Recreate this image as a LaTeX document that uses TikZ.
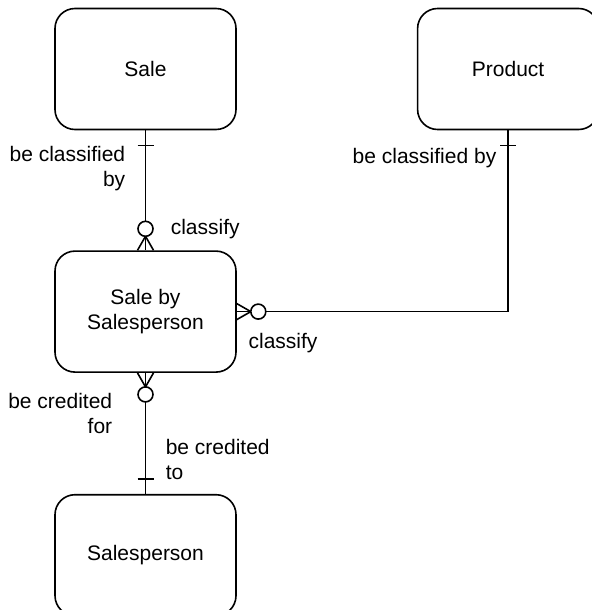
\documentclass[tikz,border=0pt]{standalone}
\usepackage{fontspec}
\setmainfont{Liberation Sans}
\usetikzlibrary{positioning,calc}

\begin{document}
\begin{tikzpicture}[x=0.5pt,y=-0.5pt,line width=0.8pt,font=\fontsize{10.5}{12.5}\selectfont]
	\tikzset{entity/.style={draw, rounded corners=10pt, minimum width=90.5pt, minimum height=60.5pt, align=center}}
	\tikzset{role/.style={inner sep=0pt}}
	\useasboundingbox (0,0) rectangle (591,610);
	\node[entity] (sale) at (145.5,69) {Sale};
	\node[entity, right=90pt of sale] (product) {Product};
	\node[entity, below=60pt of sale] (sbs) {Sale by\\Salesperson};
	\node[entity, below=60.5pt of sbs] (person) {Salesperson};
	% relationships
	\draw (sale.south) -- (sbs.north);
	\draw (sbs.east) -| (product.south);
	\draw (sbs.south) -- (person.north);
	% one ends
	\draw ($(sale.south)+(-8,15)$) -- ($(sale.south)+(8,15)$);
	\draw ($(product.south)+(-8,15)$) -- ($(product.south)+(8,15)$);
	\draw ($(person.north)+(-8,-15)$) -- ($(person.north)+(8,-15)$);
	% zero or many ends
	\draw ($(sbs.north)+(-8,0)$) -- ($(sbs.north)+(0,-14)$) -- ($(sbs.north)+(8,0)$);
	\draw[fill=white] ($(sbs.north)+(0,-21.5)$) circle (7.5);
	\draw ($(sbs.south)+(-8,0)$) -- ($(sbs.south)+(0,14)$) -- ($(sbs.south)+(8,0)$);
	\draw[fill=white] ($(sbs.south)+(0,21.5)$) circle (7.5);
	\draw ($(sbs.east)+(0,-8)$) -- ($(sbs.east)+(14,0)$) -- ($(sbs.east)+(0,8)$);
	\draw[fill=white] ($(sbs.east)+(21.5,0)$) circle (7.5);
	% role names
	\node[role, anchor=north east, align=right] (r1) at ($(sale.south)+(-19.5,15.5)$) {be classified\\by};
	\node[role, anchor=west] (r2) at ($(sbs.north)+(24.5,-21)$) {classify};
	\node[role, anchor=east] (r3) at ($(product.south)+(-11,28)$) {be classified by};
	\node[role, anchor=west] (r4) at ($(sbs.east)+(11,31)$) {classify};
	\node[role, anchor=north east, align=right] (r5) at ($(sbs.south)+(-32.5,19.5)$) {be credited\\for};
	\node[role, anchor=north west, align=left] (r6) at ($(person.north)+(19.5,-55.5)$) {be credited\\to};
\end{tikzpicture}
\end{document}
